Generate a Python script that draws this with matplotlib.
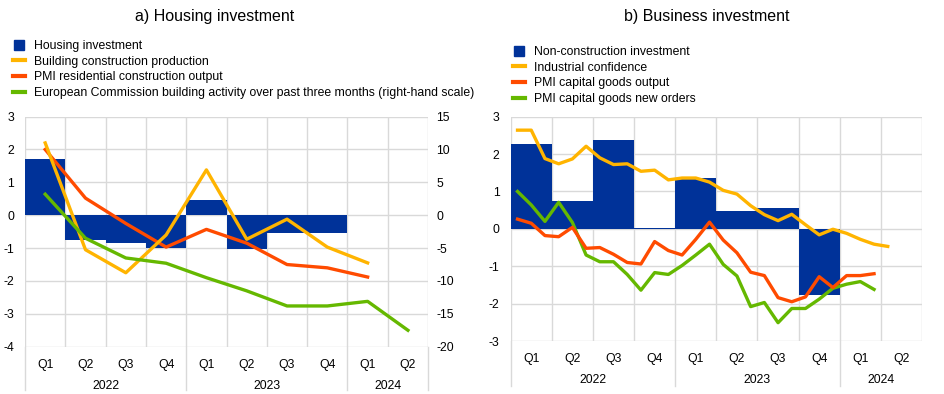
#Housing and business investment indicators
import numpy as np
import matplotlib.pyplot as plt
from matplotlib.lines import Line2D
from matplotlib.transforms import blended_transform_factory

plt.rcParams['font.family'] = ['Liberation Sans', 'DejaVu Sans']
plt.rcParams['axes.unicode_minus'] = False

BLUE = "#003299"
ORANGE = "#FFB400"
RED = "#FF4B00"
GREEN = "#65B800"
GRID = "#d9d9d9"

#Quarter labels, Q1 2022 - Q2 2024
quarters = ["Q1", "Q2", "Q3", "Q4", "Q1", "Q2", "Q3", "Q4", "Q1", "Q2"]
years = ["2022", "2023", "2024"]
year_mid = [2, 6, 9]

#Panel a) quarterly data
housing_inv = [1.72, -0.75, -0.83, -1.0, 0.47, -1.02, -0.55, -0.53]
building_prod = [2.2, -1.05, -1.75, -0.6, 1.38, -0.73, -0.12, -0.97, -1.45]
pmi_resid = [2.0, 0.52, -0.25, -0.97, -0.43, -0.85, -1.5, -1.6, -1.88]
ec_building = [3.2, -3.5, -6.5, -7.3, -9.5, -11.5, -13.8, -13.8, -13.1, -17.5]

#Panel b) quarterly bars, monthly lines from Jan 2022
noncon_inv = [2.27, 0.75, 2.38, 0.03, 1.35, 0.48, 0.55, -1.78]
ind_conf = [2.64, 2.64, 1.88, 1.74, 1.87, 2.21, 1.90, 1.72, 1.74, 1.54, 1.57, 1.31,
            1.36, 1.36, 1.25, 1.03, 0.93, 0.62, 0.38, 0.22, 0.39, 0.11, -0.16, -0.01,
            -0.12, -0.28, -0.41, -0.47]
pmi_cap_out = [0.26, 0.15, -0.18, -0.21, 0.04, -0.52, -0.50, -0.68, -0.90, -0.94, -0.34,
               -0.58, -0.70, -0.28, 0.18, -0.30, -0.64, -1.16, -1.25, -1.84, -1.95, -1.82,
               -1.28, -1.57, -1.25, -1.25, -1.20]
pmi_cap_new = [1.00, 0.64, 0.20, 0.71, 0.17, -0.70, -0.88, -0.88, -1.22, -1.64, -1.17,
               -1.22, -0.98, -0.70, -0.41, -0.95, -1.26, -2.08, -1.97, -2.51, -2.13, -2.13,
               -1.88, -1.59, -1.48, -1.41, -1.62]

fig = plt.figure(figsize=(9.45, 3.94), dpi=100)
ax1 = fig.add_axes([0.0265, 0.120, 0.4265, 0.584])
ax2 = fig.add_axes([0.5404, 0.1345, 0.4353, 0.5693])


def style_axis(ax, ymin, ymax, q_y, yr_y, seps, seps_len):
    ax.set_xlim(0, 10)
    ax.set_ylim(ymin, ymax)
    ax.set_yticks(range(ymin, ymax + 1))
    ax.set_xticks(np.arange(10) + 0.5)
    ax.set_xticklabels([])
    ax.set_xticks(range(11), minor=True)
    ax.tick_params(axis="both", which="both", length=0, labelsize=8.8)
    ax.tick_params(axis="y", pad=8)
    ax.grid(True, axis="y", which="major", color=GRID, lw=1)
    ax.grid(True, axis="x", which="minor", color=GRID, lw=1)
    ax.set_axisbelow(True)
    for s in ax.spines.values():
        s.set_visible(False)
    tr = blended_transform_factory(ax.transData, ax.transAxes)
    for i, q in enumerate(quarters):
        ax.text(i + 0.5, q_y, q, transform=tr, ha="center", va="center", fontsize=8.8)
    for m, y in zip(year_mid, years):
        ax.text(m, yr_y, y, transform=tr, ha="center", va="center", fontsize=8.8)
    for s in seps:
        ax.plot([s, s], [0, seps_len], transform=tr, color=GRID, lw=1, clip_on=False)


#a) Housing investment
qx = np.arange(10) + 0.5
ax1.bar(np.arange(len(housing_inv)), housing_inv, width=1, align="edge", color=BLUE, zorder=2)
ax1.plot(qx[:len(pmi_resid)], pmi_resid, color=RED, lw=2.4, zorder=3)
ax1.plot(qx[:len(building_prod)], building_prod, color=ORANGE, lw=2.4, zorder=4)
style_axis(ax1, -4, 3, -0.08, -0.17, [0, 4, 8, 10], -0.19)
ax1r = ax1.twinx()
ax1r.set_ylim(-20, 15)
ax1r.set_yticks(range(-20, 16, 5))
ax1r.tick_params(axis="y", length=0, labelsize=8.8, pad=6)
for s in ax1r.spines.values():
    s.set_visible(False)
ax1r.plot(qx, ec_building, color=GREEN, lw=2.4)

#b) Business investment
mx = (np.arange(28) + 0.5) / 3
ax2.bar(np.arange(len(noncon_inv)), noncon_inv, width=1, align="edge", color=BLUE, zorder=2)
ax2.plot(mx[:len(ind_conf)], ind_conf, color=ORANGE, lw=2.4, zorder=3)
ax2.plot(mx[:len(pmi_cap_new)], pmi_cap_new, color=GREEN, lw=2.4, zorder=4)
ax2.plot(mx[:len(pmi_cap_out)], pmi_cap_out, color=RED, lw=2.4, zorder=5)
style_axis(ax2, -3, 3, -0.08, -0.175, [0, 4, 8], -0.2)

fig.text(215 / 945, 1 - 17 / 394, "a) Housing investment", fontsize=11.5, ha="center", va="center")
fig.text(707 / 945, 1 - 17 / 394, "b) Business investment", fontsize=11.5, ha="center", va="center")

#legends
def handles():
    h = [Line2D([], [], color=BLUE, marker="s", markersize=7, linestyle="none")]
    h += [Line2D([], [], color=c, lw=3) for c in (ORANGE, RED, GREEN)]
    return h

leg_a = ["Housing investment", "Building construction production",
         "PMI residential construction output",
         "European Commission building activity over past three months (right-hand scale)"]
leg_b = ["Non-construction investment", "Industrial confidence",
         "PMI capital goods output", "PMI capital goods new orders"]

fig.legend(handles(), leg_a, loc="upper left", bbox_to_anchor=(13 / 945, 1 - 40 / 394),
           frameon=False, fontsize=8.8, handlelength=1.0, handletextpad=0.75,
           labelspacing=0.3, borderpad=0, borderaxespad=0)
fig.legend(handles(), leg_b, loc="upper left", bbox_to_anchor=(513 / 945, 1 - 46 / 394),
           frameon=False, fontsize=8.8, handlelength=0.95, handletextpad=0.75,
           labelspacing=0.3, borderpad=0, borderaxespad=0)

plt.savefig("out.png", dpi=100)
